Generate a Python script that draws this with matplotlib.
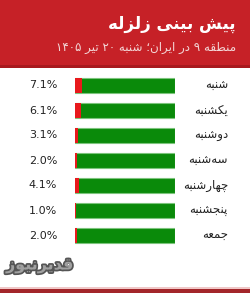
import re
import matplotlib
matplotlib.use("Agg")
import matplotlib.pyplot as plt
import matplotlib.patheffects as pe
from matplotlib.patches import Rectangle

title = "پیش بینی زلزله"
subtitle = "منطقه ۹ در ایران؛ شنبه ۲۰ تیر ۱۴۰۵"
days = ["شنبه", "یکشنبه", "دوشنبه", "سه\u200cشنبه", "چهارشنبه", "پنجشنبه", "جمعه"]
values = [7.1, 6.1, 3.1, 2.0, 4.1, 1.0, 2.0]
logo = "قدیرنیوز"

# presentation forms: isolated, final, initial, medial
FORMS = {
    "ا": ("\uFE8D", "\uFE8E", None, None),
    "ب": ("\uFE8F", "\uFE90", "\uFE91", "\uFE92"),
    "پ": ("\uFB56", "\uFB57", "\uFB58", "\uFB59"),
    "ت": ("\uFE95", "\uFE96", "\uFE97", "\uFE98"),
    "ج": ("\uFE9D", "\uFE9E", "\uFE9F", "\uFEA0"),
    "چ": ("\uFB7A", "\uFB7B", "\uFB7C", "\uFB7D"),
    "د": ("\uFEA9", "\uFEAA", None, None),
    "ر": ("\uFEAD", "\uFEAE", None, None),
    "ز": ("\uFEAF", "\uFEB0", None, None),
    "س": ("\uFEB1", "\uFEB2", "\uFEB3", "\uFEB4"),
    "ش": ("\uFEB5", "\uFEB6", "\uFEB7", "\uFEB8"),
    "ط": ("\uFEC1", "\uFEC2", "\uFEC3", "\uFEC4"),
    "ع": ("\uFEC9", "\uFECA", "\uFECB", "\uFECC"),
    "ق": ("\uFED5", "\uFED6", "\uFED7", "\uFED8"),
    "ک": ("\uFB8E", "\uFB8F", "\uFB90", "\uFB91"),
    "ل": ("\uFEDD", "\uFEDE", "\uFEDF", "\uFEE0"),
    "م": ("\uFEE1", "\uFEE2", "\uFEE3", "\uFEE4"),
    "ن": ("\uFEE5", "\uFEE6", "\uFEE7", "\uFEE8"),
    "ه": ("\uFEE9", "\uFEEA", "\uFEEB", "\uFEEC"),
    "و": ("\uFEED", "\uFEEE", None, None),
    "ی": ("\uFBFC", "\uFBFD", "\uFBFE", "\uFBFF"),
}


def rtl(s):
    out = []
    for i, c in enumerate(s):
        if c not in FORMS:
            out.append(c)
            continue
        f = FORMS[c]
        prev = s[i - 1] if i > 0 else ""
        nxt = s[i + 1] if i < len(s) - 1 else ""
        jp = prev in FORMS and FORMS[prev][2] is not None
        jn = f[2] is not None and nxt in FORMS
        if jp and jn:
            out.append(f[3])
        elif jp:
            out.append(f[1])
        elif jn:
            out.append(f[2])
        else:
            out.append(f[0])
    vis = "".join(out).replace("\u200c", "")[::-1]
    return re.sub(r"[0-9\u06F0-\u06F9]+", lambda m: m.group(0)[::-1], vis)


fig = plt.figure(figsize=(2.5, 2.93), dpi=100)
fig.patch.set_facecolor("white")

# decoration layer in pixel coords
deco = fig.add_axes([0, 0, 1, 1])
deco.set_xlim(0, 250)
deco.set_ylim(293, 0)
deco.axis("off")
deco.add_patch(Rectangle((0, 0), 250, 68, color="#c62127", lw=0))
deco.add_patch(Rectangle((0, 65), 250, 3, color="#a8191e", lw=0))
deco.add_patch(Rectangle((0, 287), 250, 2, color="#f0c8c8", lw=0))
deco.add_patch(Rectangle((0, 289), 250, 4, color="#a3262a", lw=0))
deco.text(236, 24, rtl(title), ha="right", va="center", color="white",
          fontsize=12, fontweight="bold", family="DejaVu Sans")
deco.text(236, 47, rtl(subtitle), ha="right", va="center", color="#f3d6d6",
          fontsize=8.6, family="DejaVu Sans")
deco.text(6, 266, rtl(logo), ha="left", va="center", color="#a0a0a0",
          fontsize=11.5, fontweight="bold", family="DejaVu Sans",
          path_effects=[pe.withStroke(linewidth=2.5, foreground="#555555")])

# bars
ax = fig.add_axes([75 / 250, (293 - 248) / 293, 100 / 250, 175 / 293])
ax.set_xlim(0, 100)
ax.set_ylim(len(days) - 0.5, -0.5)
ax.axis("off")
ypos = list(range(len(days)))
ax.barh(ypos, [100] * len(days), height=0.6, color="#0a8a0a",
        edgecolor="#7cc47c", linewidth=0.8)
ax.barh(ypos, values, height=0.6, color="#e8191c", lw=0)

for y, v, d in zip(ypos, values, days):
    ax.text(-18, y, f"{v:.1f}%", ha="right", va="center", fontsize=8,
            color="#222222", clip_on=False)
    ax.text(153, y, rtl(d), ha="right", va="center", fontsize=8.5,
            color="#222222", clip_on=False, family="DejaVu Sans")

fig.savefig("out.png", dpi=100)
